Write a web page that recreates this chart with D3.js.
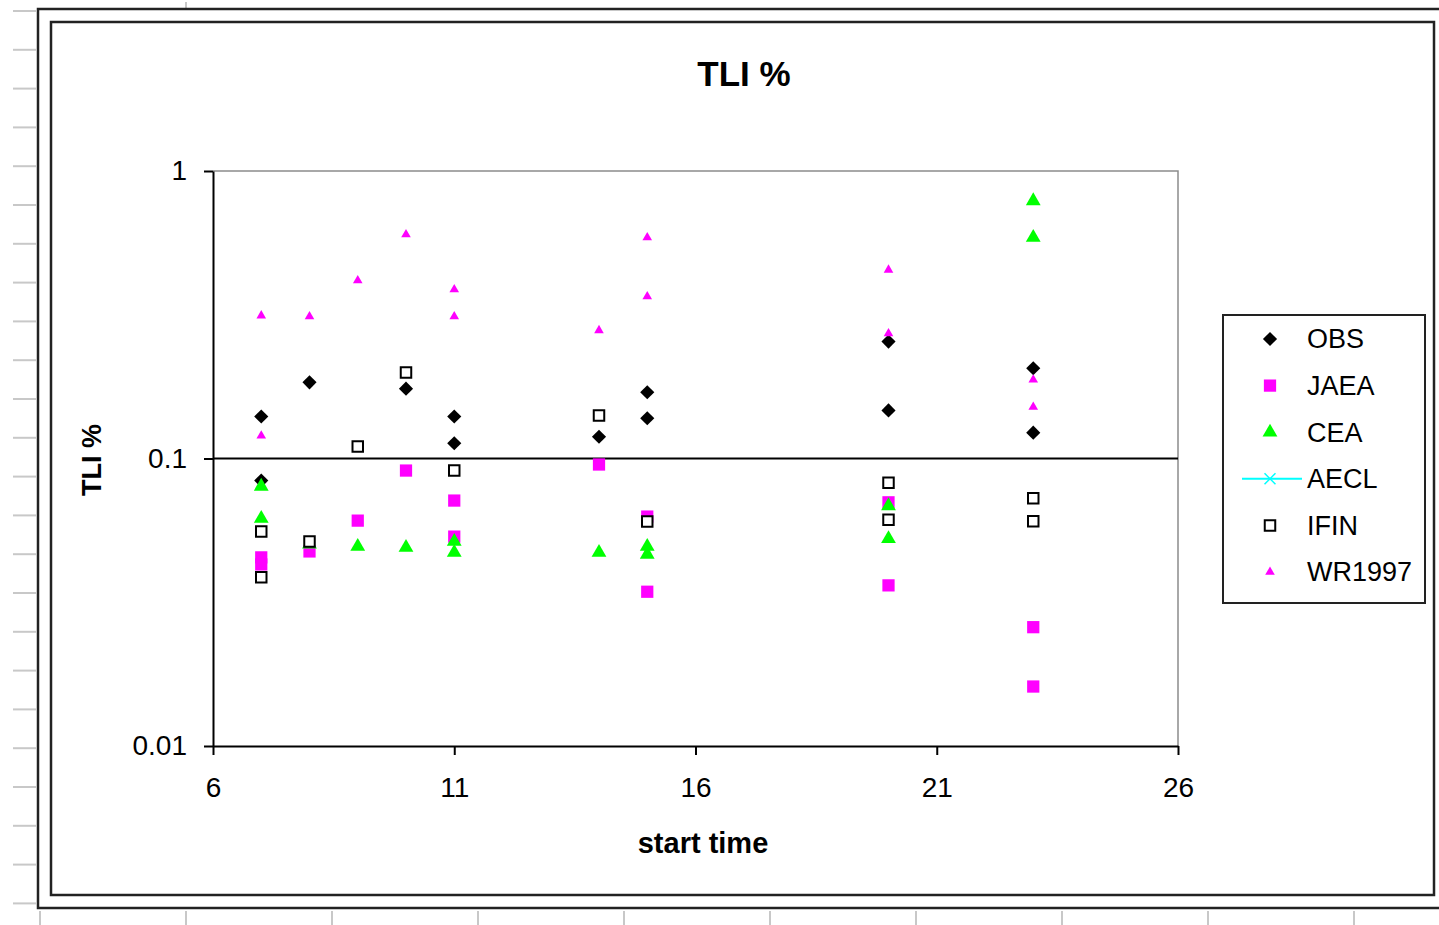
<!DOCTYPE html>
<html>
<head>
<meta charset="utf-8">
<script src="https://cdn.jsdelivr.net/npm/d3@7"></script>
<style>
  body { margin: 0; background: #fff; }
  svg { display: block; font-family: "Liberation Sans", Arial, sans-serif; }
</style>
</head>
<body>
<svg id="chart" width="1439" height="925"></svg>
<script>
// values: [start time, TLI %]
const obs = [[7, 0.140], [7, 0.0838], [8, 0.184], [10, 0.175], [11, 0.140], [11, 0.113],
  [14, 0.119], [15, 0.170], [15, 0.138], [20, 0.255], [20, 0.147], [23, 0.206], [23, 0.123]];
const jaea = [[7, 0.0453], [7, 0.0428], [8, 0.0475], [9, 0.0608], [10, 0.0908], [11, 0.0714],
  [11, 0.0535], [14, 0.0953], [15, 0.0628], [15, 0.0344], [20, 0.0704], [20, 0.0362],
  [23, 0.0259], [23, 0.0161]];
const cea = [[7, 0.080], [7, 0.0618], [8, 0.0503], [9, 0.0494], [10, 0.049], [11, 0.0514],
  [11, 0.0471], [14, 0.0471], [15, 0.0494], [15, 0.0464], [20, 0.0684], [20, 0.0526],
  [23, 0.787], [23, 0.587]];
const aecl = []; // only in the legend
const ifin = [[7, 0.0557], [7, 0.0386], [8, 0.0514], [9, 0.110], [10, 0.199], [11, 0.0908],
  [14, 0.141], [15, 0.0604], [20, 0.0824], [20, 0.0612], [23, 0.0727], [23, 0.0605]];
const wr1997 = [[7, 0.314], [7, 0.120], [8, 0.312], [9, 0.416], [10, 0.601], [11, 0.387],
  [11, 0.312], [14, 0.279], [15, 0.587], [15, 0.366], [20, 0.453], [20, 0.272],
  [23, 0.188], [23, 0.151]];

const seriesNames = ["OBS", "JAEA", "CEA", "AECL", "IFIN", "WR1997"];
const xTicks = [6, 11, 16, 21, 26];
const yTicks = [0.01, 0.1, 1];
const yTickLabels = ["0.01", "0.1", "1"];

const svg = d3.select("#chart");

// spreadsheet cell marks around the chart
const cellRows = d3.range(0, 24);
svg.append("g").selectAll("line").data(cellRows).join("line")
  .attr("x1", 13).attr("x2", 36)
  .attr("y1", d => 11 + d * 38.8).attr("y2", d => 11 + d * 38.8)
  .attr("stroke", "#c8c8c8").attr("stroke-width", 2);
const cellCols = d3.range(0, 10);
svg.append("g").selectAll("line").data(cellCols).join("line")
  .attr("x1", d => 40 + d * 146).attr("x2", d => 40 + d * 146)
  .attr("y1", 911).attr("y2", 925)
  .attr("stroke", "#c8c8c8").attr("stroke-width", 2);
svg.append("line").attr("x1", 186).attr("x2", 186).attr("y1", 2).attr("y2", 8)
  .attr("stroke", "#c8c8c8").attr("stroke-width", 2);

// outer and inner chart frames
svg.append("rect").attr("x", 38).attr("y", 9).attr("width", 1420).attr("height", 899)
  .attr("fill", "#fff").attr("stroke", "#222").attr("stroke-width", 2.5);
svg.append("rect").attr("x", 51).attr("y", 22).attr("width", 1383).attr("height", 873)
  .attr("fill", "#fff").attr("stroke", "#222").attr("stroke-width", 2.5);

const plot = { left: 213, right: 1178, top: 171, bottom: 746 };
const x = d3.scaleLinear().domain([6, 26]).range([plot.left, plot.right]);
const y = d3.scaleLog().domain([0.01, 1]).range([plot.bottom, plot.top]);

// plot area border (gray top/right)
svg.append("path")
  .attr("d", `M${plot.left},${plot.top}H${plot.right}V${plot.bottom}`)
  .attr("fill", "none").attr("stroke", "#8c8c8c").attr("stroke-width", 1.5);

// major gridline at 0.1
svg.append("line")
  .attr("x1", plot.left).attr("x2", plot.right)
  .attr("y1", y(0.1)).attr("y2", y(0.1))
  .attr("stroke", "#000").attr("stroke-width", 2);

// axes
const xAxis = svg.append("g")
  .attr("transform", `translate(0,${plot.bottom})`)
  .call(d3.axisBottom(x).tickValues(xTicks).tickFormat(d3.format("d"))
    .tickSize(9).tickSizeOuter(0).tickPadding(22));
const yAxis = svg.append("g")
  .attr("transform", `translate(${plot.left},0)`)
  .call(d3.axisLeft(y).tickValues(yTicks).tickFormat((d, i) => yTickLabels[i])
    .tickSize(9).tickSizeOuter(0).tickPadding(17));
[xAxis, yAxis].forEach(g => {
  g.select(".domain").attr("stroke", "#000").attr("stroke-width", 2);
  g.selectAll(".tick line").attr("stroke", "#000").attr("stroke-width", 2);
  g.selectAll(".tick text").attr("font-size", 28).attr("fill", "#000")
    .attr("font-family", "'Liberation Sans', Arial, sans-serif");
});

// titles
svg.append("text").attr("x", 744).attr("y", 86).attr("text-anchor", "middle")
  .attr("font-size", 35).attr("font-weight", "bold").text("TLI %");
svg.append("text").attr("x", 703).attr("y", 853).attr("text-anchor", "middle")
  .attr("font-size", 29).attr("font-weight", "bold").text("start time");
svg.append("text").attr("transform", "translate(101,460) rotate(-90)")
  .attr("text-anchor", "middle").attr("font-size", 27).attr("font-weight", "bold")
  .text("TLI %");

// marker styles per series
const styles = {
  OBS: { type: d3.symbolSquare, size: 100, rotate: 45, fill: "#000", stroke: "none" },
  JAEA: { type: d3.symbolSquare, size: 150, rotate: 0, fill: "#ff00ff", stroke: "none" },
  CEA: { type: d3.symbolTriangle, size: 95, rotate: 0, fill: "#00ff00", stroke: "none" },
  AECL: { type: d3.symbolX, size: 80, rotate: 0, fill: "none", stroke: "#00ffff" },
  IFIN: { type: d3.symbolSquare, size: 110, rotate: 0, fill: "#fff", stroke: "#000" },
  WR1997: { type: d3.symbolTriangle, size: 40, rotate: 0, fill: "#ff00ff", stroke: "none" }
};
const seriesData = [obs, jaea, cea, aecl, ifin, wr1997];

function drawMarker(g, name) {
  const s = styles[name];
  g.append("path")
    .attr("d", d3.symbol().type(s.type).size(s.size)())
    .attr("transform", `rotate(${s.rotate})`)
    .attr("fill", s.fill)
    .attr("stroke", s.stroke)
    .attr("stroke-width", name === "AECL" ? 1.5 : 2);
}

seriesNames.forEach((name, i) => {
  const g = svg.append("g").attr("class", "series-" + name);
  g.selectAll("g").data(seriesData[i]).join("g")
    .attr("transform", d => `translate(${x(d[0])},${y(d[1])})`)
    .each(function () { drawMarker(d3.select(this), name); });
});

// legend
const legend = svg.append("g");
legend.append("rect").attr("x", 1223).attr("y", 315).attr("width", 202).attr("height", 288)
  .attr("fill", "#fff").attr("stroke", "#222").attr("stroke-width", 2);
const rowY = d3.scalePoint().domain(seriesNames).range([339, 572]);
seriesNames.forEach(name => {
  const row = legend.append("g").attr("transform", `translate(1270,${rowY(name)})`);
  if (name === "AECL") {
    row.append("line").attr("x1", -28).attr("x2", 32).attr("y1", 0).attr("y2", 0)
      .attr("stroke", "#00ffff").attr("stroke-width", 2);
  }
  drawMarker(row, name);
  legend.append("text").attr("x", 1307).attr("y", rowY(name))
    .attr("dy", "0.35em").attr("font-size", 27).attr("fill", "#000").text(name);
});
</script>
</body>
</html>
